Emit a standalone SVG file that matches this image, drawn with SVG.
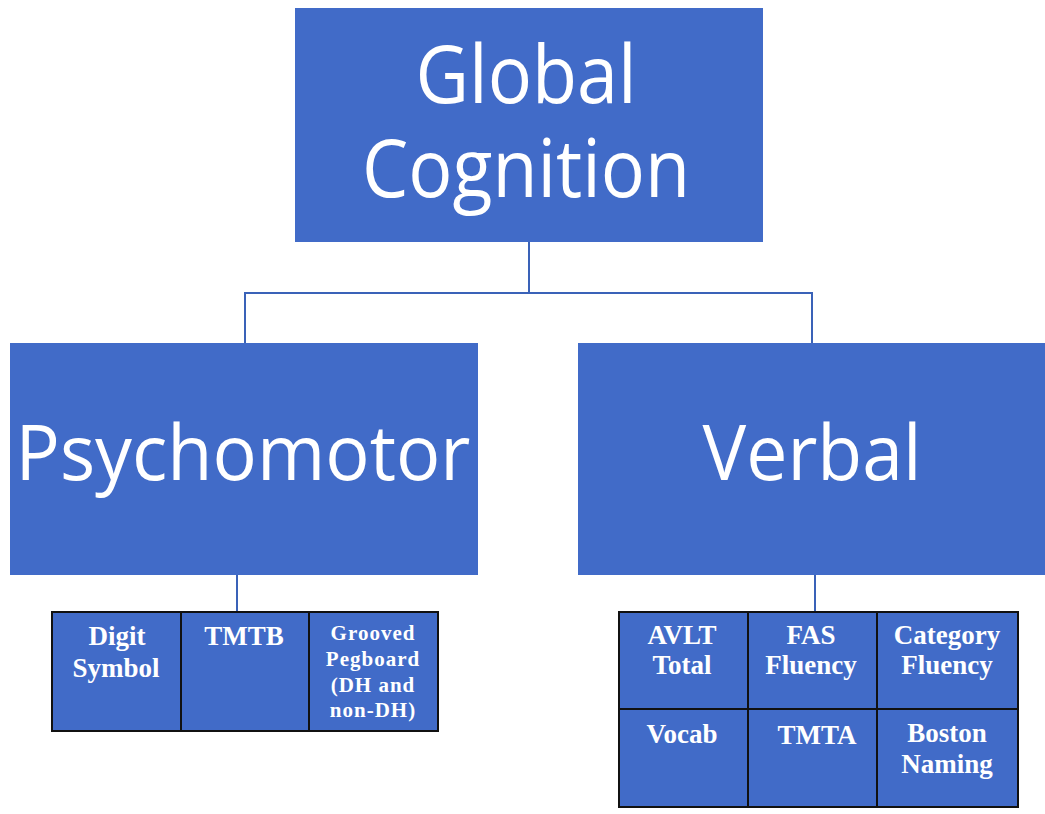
<svg xmlns="http://www.w3.org/2000/svg" width="1045" height="814" viewBox="0 0 1045 814">
<style>
.box{fill:#416BC8;}
.cell{fill:#416BC8;stroke:#111;stroke-width:2;}
.big{font-family:"Open Sans",Lato,sans-serif;fill:#fff;text-anchor:middle;font-variant-ligatures:none;}
.sm{font-family:"Liberation Serif","Times New Roman",serif;font-weight:bold;font-size:27px;fill:#fff;text-anchor:middle;}
.sm2{font-family:"Liberation Serif","Times New Roman",serif;font-weight:bold;font-size:21px;fill:#fff;text-anchor:middle;letter-spacing:1px;}
.conn{fill:none;stroke:#3A62B8;stroke-width:2;}
</style>
<rect width="1045" height="814" fill="#fff"/>
<g id="connectors">
<path class="conn" d="M529,242 V293 M245,343 V293 H812 V343"/>
<path class="conn" d="M237,575 V612"/>
<path class="conn" d="M815,575 V612"/>
</g>
<g id="global-cognition">
<rect class="box" x="295" y="8" width="468" height="234"/>
<text class="big" x="526" y="103" font-size="80" textLength="221" lengthAdjust="spacingAndGlyphs">Global</text>
<text class="big" x="526" y="197" font-size="80" textLength="328" lengthAdjust="spacingAndGlyphs">Cognition</text>
</g>
<g id="psychomotor">
<rect class="box" x="10" y="343" width="468" height="232"/>
<text class="big" x="243" y="480" font-size="77" textLength="455" lengthAdjust="spacingAndGlyphs">Psychomotor</text>
</g>
<g id="verbal">
<rect class="box" x="578" y="343" width="467" height="232"/>
<text class="big" x="812" y="480" font-size="77" textLength="219" lengthAdjust="spacingAndGlyphs">Verbal</text>
</g>
<g id="psychomotor-tests">
<rect class="cell" x="52" y="612" width="129" height="119"/>
<rect class="cell" x="181" y="612" width="128" height="119"/>
<rect class="cell" x="309" y="612" width="129" height="119"/>
<text class="sm" x="117" y="645">Digit</text>
<text class="sm" x="116" y="677">Symbol</text>
<text class="sm" x="244" y="645">TMTB</text>
<text class="sm2" x="373" y="640">Grooved</text>
<text class="sm2" x="373" y="666">Pegboard</text>
<text class="sm2" x="373" y="692">(DH and</text>
<text class="sm2" x="373" y="717">non-DH)</text>
</g>
<g id="verbal-tests">
<rect class="cell" x="619" y="612" width="129" height="97"/>
<rect class="cell" x="748" y="612" width="129" height="97"/>
<rect class="cell" x="877" y="612" width="141" height="97"/>
<rect class="cell" x="619" y="709" width="129" height="98"/>
<rect class="cell" x="748" y="709" width="129" height="98"/>
<rect class="cell" x="877" y="709" width="141" height="98"/>
<text class="sm" x="682" y="644">AVLT</text>
<text class="sm" x="682" y="674">Total</text>
<text class="sm" x="811" y="644">FAS</text>
<text class="sm" x="811" y="674">Fluency</text>
<text class="sm" x="947" y="644">Category</text>
<text class="sm" x="947" y="674">Fluency</text>
<text class="sm" x="682" y="743">Vocab</text>
<text class="sm" x="817" y="744">TMTA</text>
<text class="sm" x="947" y="742">Boston</text>
<text class="sm" x="947" y="773">Naming</text>
</g>
</svg>
